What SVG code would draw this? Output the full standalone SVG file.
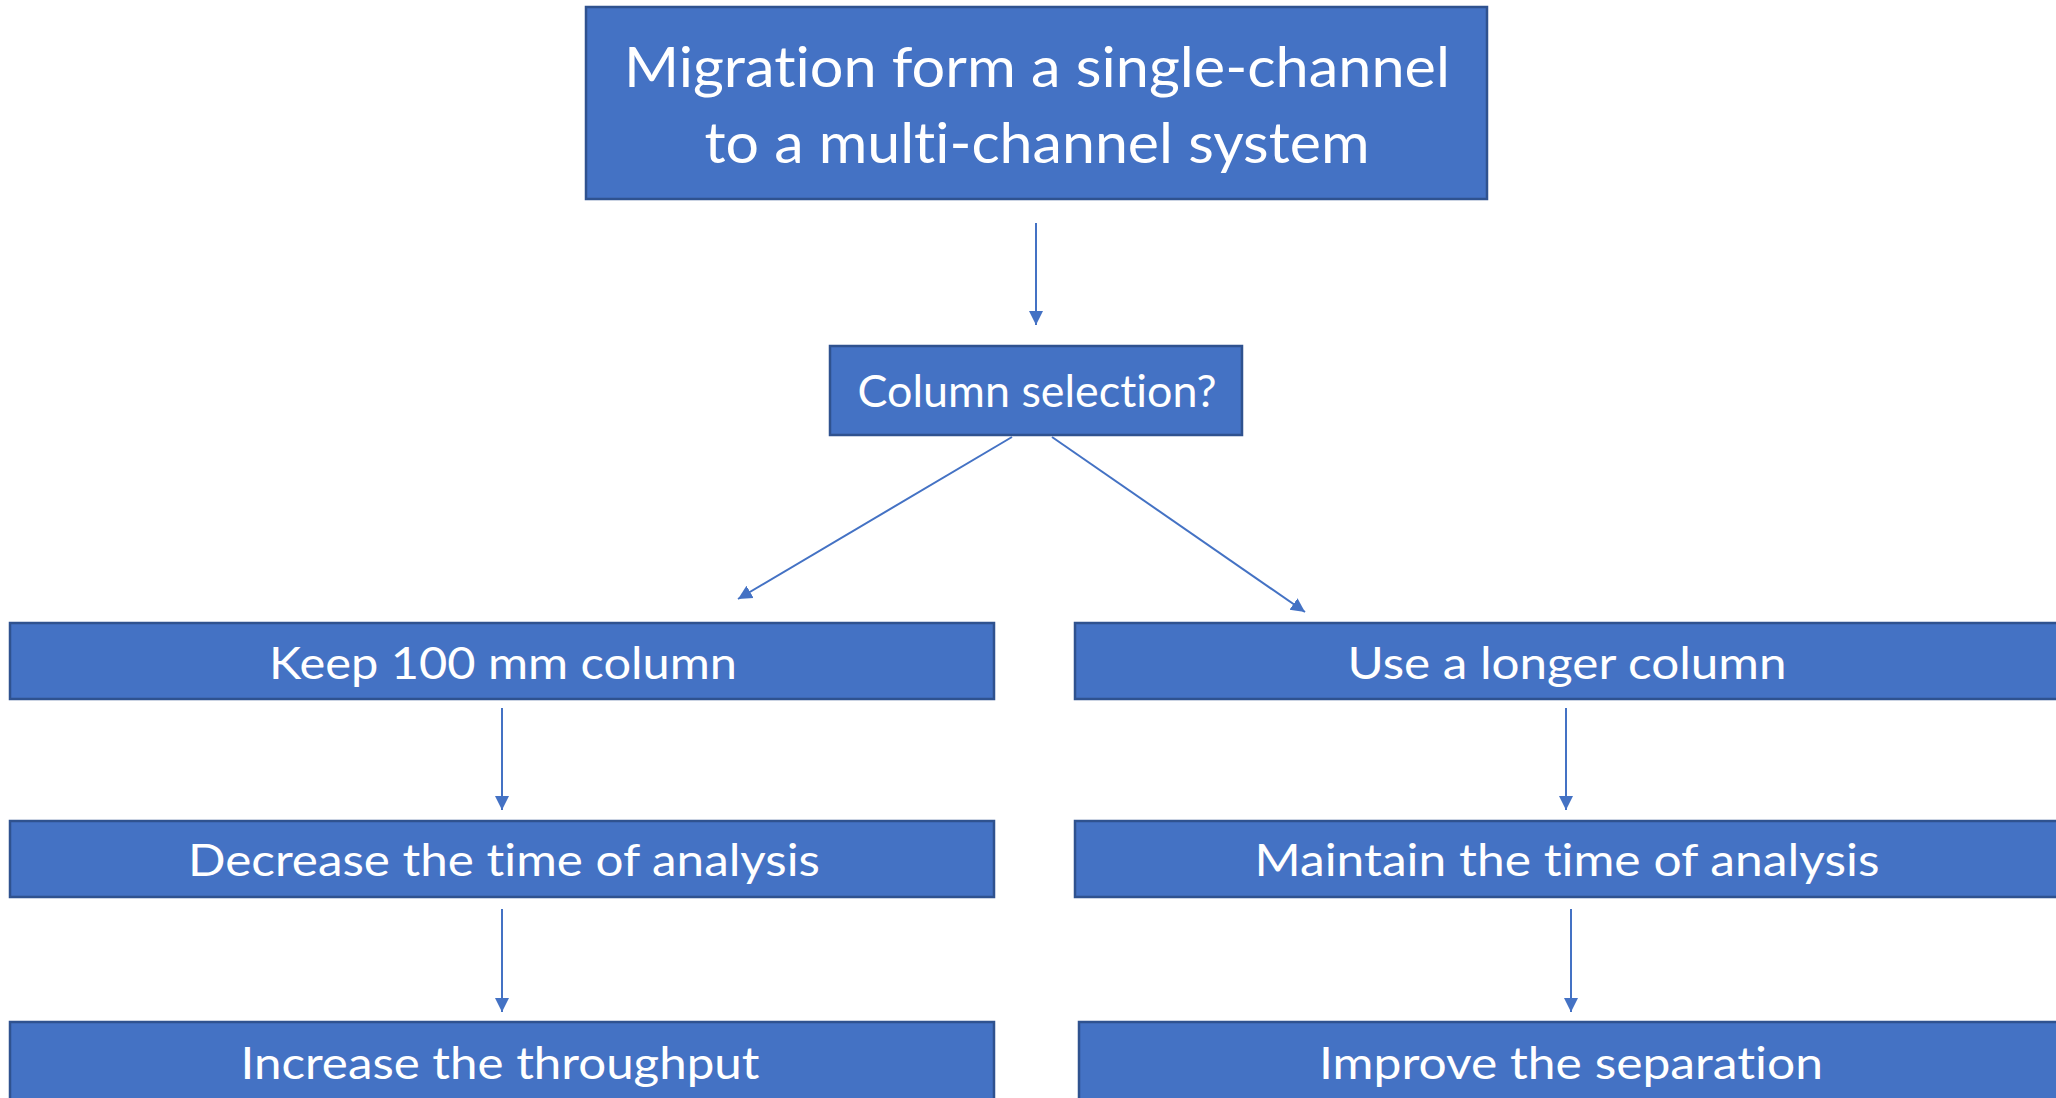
<svg xmlns="http://www.w3.org/2000/svg" width="2056" height="1098" viewBox="0 0 2056 1098">
<style>
.box{fill:#4472C4;stroke:#2F528F;stroke-width:2.5}
.t{fill:#FFFFFF;font-family:Lato,"Open Sans","Liberation Sans",sans-serif;text-anchor:middle;font-variant-ligatures:none;font-feature-settings:"liga" 0,"clig" 0}
.big{font-size:56px}
.mid{font-size:45px}
.c{stroke:#4472C4;stroke-width:2;fill:none;marker-end:url(#ah)}
</style>
<defs>
<marker id="ah" markerUnits="userSpaceOnUse" markerWidth="14" markerHeight="16" refX="14" refY="7" orient="auto" viewBox="0 0 14 14">
<path d="M0,0 L14,7 L0,14 Z" fill="#4472C4"/>
</marker>
</defs>
<rect width="2056" height="1098" fill="#FFFFFF"/>
<g id="connectors">
<line class="c" x1="1036" y1="223" x2="1036" y2="325"/>
<line class="c" x1="1012" y1="437" x2="738" y2="599"/>
<line class="c" x1="1052" y1="437" x2="1305" y2="612"/>
<line class="c" x1="502" y1="708" x2="502" y2="810"/>
<line class="c" x1="502" y1="909" x2="502" y2="1012"/>
<line class="c" x1="1566" y1="708" x2="1566" y2="810"/>
<line class="c" x1="1571" y1="909" x2="1571" y2="1012"/>
</g>
<g id="node-migration">
<rect class="box" x="586" y="7" width="901" height="192"/>
<text class="t big" x="1037" y="87" textLength="826" lengthAdjust="spacingAndGlyphs">Migration form a single-channel</text>
<text class="t big" x="1037" y="163" textLength="665" lengthAdjust="spacingAndGlyphs">to a multi-channel system</text>
</g>
<g id="node-column-selection">
<rect class="box" x="830" y="346" width="412" height="89"/>
<text class="t mid" x="1037" y="407" textLength="359" lengthAdjust="spacingAndGlyphs">Column selection?</text>
</g>
<g id="node-keep">
<rect class="box" x="10" y="623" width="984" height="76"/>
<text class="t mid" x="503" y="679" textLength="468" lengthAdjust="spacingAndGlyphs">Keep 100 mm column</text>
</g>
<g id="node-longer">
<rect class="box" x="1075" y="623" width="990" height="76"/>
<text class="t mid" x="1567" y="679" textLength="439" lengthAdjust="spacingAndGlyphs">Use a longer column</text>
</g>
<g id="node-decrease">
<rect class="box" x="10" y="821" width="984" height="76"/>
<text class="t mid" x="504" y="876" textLength="632" lengthAdjust="spacingAndGlyphs">Decrease the time of analysis</text>
</g>
<g id="node-maintain">
<rect class="box" x="1075" y="821" width="990" height="76"/>
<text class="t mid" x="1567" y="876" textLength="625" lengthAdjust="spacingAndGlyphs">Maintain the time of analysis</text>
</g>
<g id="node-increase">
<rect class="box" x="10" y="1022" width="984" height="90"/>
<text class="t mid" x="500" y="1079" textLength="519" lengthAdjust="spacingAndGlyphs">Increase the throughput</text>
</g>
<g id="node-improve">
<rect class="box" x="1079" y="1022" width="990" height="90"/>
<text class="t mid" x="1571" y="1079" textLength="504" lengthAdjust="spacingAndGlyphs">Improve the separation</text>
</g>
</svg>
